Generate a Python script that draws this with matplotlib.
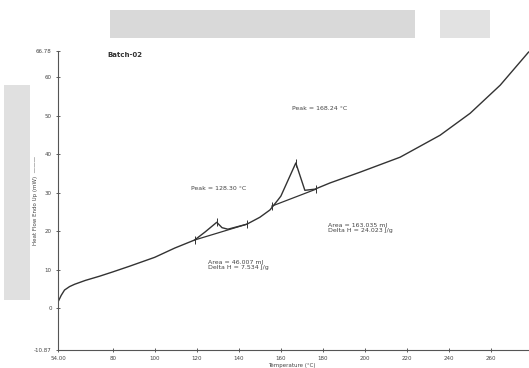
import numpy as np
import matplotlib
matplotlib.use("Agg")
import matplotlib.pyplot as plt
from matplotlib.patches import Rectangle

# heat flow curve
temp = [54.0, 55.5, 57.1, 59.5, 61.9, 67.0, 73.8, 80.0, 88.1, 100.0, 109.5, 119.0,
        124.0, 129.5, 132.0, 134.8, 143.8, 150.0, 154.8, 158.6, 160.0, 167.1,
        171.4, 176.2, 183.3, 197.6, 216.7, 235.7, 250.0, 264.3, 277.8]
heat = [1.6, 3.3, 4.7, 5.6, 6.2, 7.2, 8.3, 9.4, 10.9, 13.2, 15.6, 17.7,
        19.8, 22.3, 20.9, 20.5, 21.8, 23.6, 25.5, 28.1, 29.1, 37.7,
        30.6, 30.9, 32.5, 35.3, 39.2, 44.9, 50.6, 57.9, 66.5]

base1_x = [119.0, 143.8]
base1_y = [17.7, 21.8]
base2_x = [155.7, 176.7]
base2_y = [26.5, 30.9]

mark_x = [119.0, 129.5, 143.8, 155.7, 167.1, 176.7]
mark_y = [17.7, 22.3, 21.8, 26.5, 37.7, 30.9]

xticks = [54.0, 80, 100, 120, 140, 160, 180, 200, 220, 240, 260]
xlabels = ["54.00", "80", "100", "120", "140", "160", "180", "200", "220", "240", "260"]
yticks = [-10.87, 0, 10, 20, 30, 40, 50, 60, 66.78]
ylabels = ["-10.87", "0", "10", "20", "30", "40", "50", "60", "66.78"]

fig = plt.figure(figsize=(5.29, 3.68), dpi=100)

# watermark-ish grey blocks from the scanned page
fig.patches.append(Rectangle((110/529, 1-38/368), 305/529, 28/368, transform=fig.transFigure,
                             facecolor="#d9d9d9", edgecolor="none", zorder=0))
fig.patches.append(Rectangle((440/529, 1-38/368), 50/529, 28/368, transform=fig.transFigure,
                             facecolor="#e2e2e2", edgecolor="none", zorder=0))
fig.patches.append(Rectangle((4/529, 1-300/368), 26/529, 215/368, transform=fig.transFigure,
                             facecolor="#e0e0e0", edgecolor="none", zorder=0))

ax = fig.add_axes([58/529, 18/368, 471/529, 299/368])
ax.patch.set_alpha(0)
ax.plot(temp, heat, color="#333333", lw=1.0)
ax.plot(base1_x, base1_y, color="#333333", lw=0.9)
ax.plot(base2_x, base2_y, color="#333333", lw=0.9)
ax.plot(mark_x, mark_y, ls="none", marker="|", ms=6, mew=0.7, color="#333333")

ax.set_xlim(54.0, 278.0)
ax.set_ylim(-10.87, 66.78)
ax.set_xticks(xticks)
ax.set_xticklabels(xlabels)
ax.set_yticks(yticks)
ax.set_yticklabels(ylabels)
ax.tick_params(direction="inout", length=3, width=0.6, labelsize=4, colors="#444444", pad=3)
for s in ["top", "right"]:
    ax.spines[s].set_visible(False)
for s in ["left", "bottom"]:
    ax.spines[s].set_color("#555555")
    ax.spines[s].set_linewidth(0.8)

ax.text(85.7, 65.7, "Batch-02", fontsize=5, fontweight="bold", ha="center", va="center", color="#333333")
ax.text(178.6, 51.9, "Peak = 168.24 °C", fontsize=4.5, ha="center", va="center", color="#444444")
ax.text(130.5, 31.2, "Peak = 128.30 °C", fontsize=4.5, ha="center", va="center", color="#444444")
ax.text(182.4, 20.8, "Area = 163.035 mJ\nDelta H = 24.023 J/g", fontsize=4.5, ha="left", va="center",
        color="#444444", linespacing=1.1)
ax.text(125.2, 11.2, "Area = 46.007 mJ\nDelta H = 7.534 J/g", fontsize=4.5, ha="left", va="center",
        color="#444444", linespacing=1.1)

fig.text(268/529, 1-365/368, "Temperature (°C)", fontsize=4, ha="left", va="center", color="#444444")
fig.text(36/529, 1-200/368, "Heat Flow Endo Up (mW)  ———", fontsize=4, rotation=90,
         ha="center", va="center", color="#444444")

fig.savefig("out.png", dpi=100)
